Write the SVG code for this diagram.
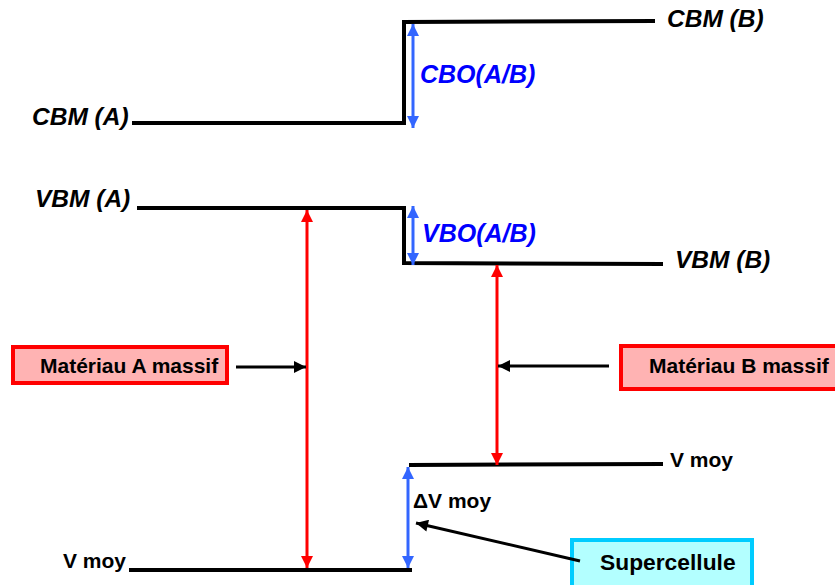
<svg xmlns="http://www.w3.org/2000/svg" width="835" height="585" viewBox="0 0 835 585">
<style>
.lvl{stroke:#000;stroke-width:4;fill:none}
.lab{font-family:"Liberation Sans",Arial,sans-serif;font-weight:bold;font-style:italic;font-size:24.5px;fill:#000}
.blab{font-family:"Liberation Sans",Arial,sans-serif;font-weight:bold;font-style:italic;font-size:25px;fill:#0000ff}
.txt{font-family:"Liberation Sans",Arial,sans-serif;font-weight:bold;font-size:21px;fill:#000}
.red{stroke:#ff0000;stroke-width:3;fill:none}
.blue{stroke:#3366ff;stroke-width:3;fill:none}
.blk{stroke:#000;stroke-width:3;fill:none}
</style>
<defs>
<marker id="hr" viewBox="0 0 10 10" refX="10" refY="5" markerWidth="4.5" markerHeight="4" markerUnits="strokeWidth" orient="auto-start-reverse"><path d="M0,0 L10,5 L0,10 z" fill="#ff0000"/></marker>
<marker id="hb" viewBox="0 0 10 10" refX="10" refY="5" markerWidth="4.5" markerHeight="4" markerUnits="strokeWidth" orient="auto-start-reverse"><path d="M0,0 L10,5 L0,10 z" fill="#3366ff"/></marker>
<marker id="hk" viewBox="0 0 10 10" refX="10" refY="5" markerWidth="4.5" markerHeight="4" markerUnits="strokeWidth" orient="auto"><path d="M0,0 L10,5 L0,10 z" fill="#000"/></marker>
</defs>
<g id="levels">
<polyline class="lvl" points="132,123 404,123 404,22 655,21"/>
<polyline class="lvl" points="137,208 404,208 404,263 663,264"/>
<line class="lvl" x1="409" y1="465" x2="663" y2="464"/>
<line class="lvl" x1="129" y1="570" x2="412" y2="570"/>
</g>
<g id="labels">
<text class="lab" x="32" y="125">CBM (A)</text>
<text class="lab" x="667" y="27">CBM (B)</text>
<text class="lab" x="35" y="207">VBM (A)</text>
<text class="lab" x="675" y="268">VBM (B)</text>
<text class="blab" x="420" y="83">CBO(A/B)</text>
<text class="blab" x="422" y="242">VBO(A/B)</text>
<text class="txt" x="670" y="467">V moy</text>
<text class="txt" x="63" y="568">V moy</text>
<text class="txt" x="413" y="508">ΔV moy</text>
</g>
<g id="matA">
<rect x="13" y="347" width="214" height="36" fill="#ffb3b3" stroke="#ff0000" stroke-width="4"/>
<text class="txt" x="40" y="373">Matériau A massif</text>
</g>
<g id="matB">
<rect x="621" y="346" width="216" height="43" fill="#ffb3b3" stroke="#ff0000" stroke-width="4"/>
<text class="txt" x="649" y="373">Matériau B massif</text>
</g>
<g id="supercellule">
<rect x="572" y="540" width="180" height="48" fill="#b3ffff" stroke="#00ccff" stroke-width="4"/>
<text class="txt" x="600" y="570" style="font-size:22.8px">Supercellule</text>
</g>
<g id="connectors">
<line class="blue" x1="413" y1="24" x2="413" y2="128" marker-start="url(#hb)" marker-end="url(#hb)"/>
<line class="blue" x1="413" y1="206" x2="413" y2="265" marker-start="url(#hb)" marker-end="url(#hb)"/>
<line class="blue" x1="408" y1="467" x2="408" y2="568" marker-start="url(#hb)" marker-end="url(#hb)"/>
<line class="red" x1="307" y1="210" x2="307" y2="568" marker-start="url(#hr)" marker-end="url(#hr)"/>
<line class="red" x1="497" y1="265" x2="497" y2="465" marker-start="url(#hr)" marker-end="url(#hr)"/>
<line class="blk" x1="236" y1="367" x2="306" y2="367" marker-end="url(#hk)"/>
<line class="blk" x1="609" y1="366" x2="498" y2="366" marker-end="url(#hk)"/>
<line class="blk" x1="580" y1="561" x2="416" y2="523" marker-end="url(#hk)"/>
</g>
</svg>
